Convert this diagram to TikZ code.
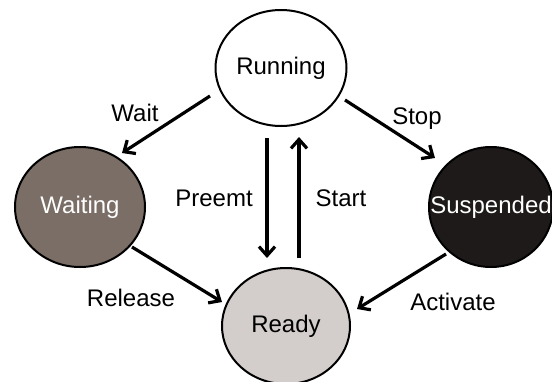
\documentclass[tikz,border=0pt]{standalone}
\usepackage{fontspec}
\setmainfont{Liberation Sans}
\usetikzlibrary{arrows.meta,shapes.geometric}
\definecolor{waitc}{HTML}{7A6E66}
\definecolor{suspc}{HTML}{1E1A1A}
\definecolor{readyc}{HTML}{D3CDCB}
\begin{document}
\begin{tikzpicture}[x=1pt,y=-1pt,
  state/.style={draw=black, line width=2pt, ellipse, inner sep=0pt, font=\fontsize{24}{28}\selectfont},
  lbl/.style={font=\fontsize{24}{28}\selectfont, inner sep=0pt},
  arr/.style={line width=3.2pt, -{Straight Barb[length=9pt,width=16pt,line width=3.2pt]}}]
\useasboundingbox (0,0) rectangle (552,381);
\path[fill=white] (0,0) rectangle (552,381);
\node[state, fill=white, minimum width=131pt, minimum height=116pt] (run) at (281,68) {\raisebox{-2pt}{Running}};
\node[state, fill=waitc, text=white, minimum width=130pt, minimum height=120pt] (wait) at (80,207) {\raisebox{-1pt}{Waiting}};
\node[state, fill=suspc, text=white, minimum width=124pt, minimum height=120pt, inner xsep=-20pt] (susp) at (491,207) {\raisebox{-1pt}{Suspended}};
\node[state, fill=readyc, minimum width=128pt, minimum height=116pt] (ready) at (286,326) {\raisebox{-1pt}{Ready}};
% connector end points
\coordinate (w1) at (210,96);  \coordinate (w2) at (122,153);
\coordinate (s1) at (345,100); \coordinate (s2) at (435,158);
\coordinate (p1) at (267,138); \coordinate (p2) at (267,258);
\coordinate (t1) at (299,258); \coordinate (t2) at (299,137);
\coordinate (r1) at (132,247); \coordinate (r2) at (222,302);
\coordinate (a1) at (446,254); \coordinate (a2) at (357,309);
\draw[arr] (w1) -- (w2);
\draw[arr] (s1) -- (s2);
\draw[arr] (p1) -- (p2);
\draw[arr] (t1) -- (t2);
\draw[arr] (r1) -- (r2);
\draw[arr] (a1) -- (a2);
\node[lbl] (lw) at (135,113) {Wait};
\node[lbl] (ls) at (417,119) {Stop};
\node[lbl] (lp) at (214,198) {Preemt};
\node[lbl] (lt) at (341,198) {Start};
\node[lbl] (lr) at (131,298) {Release};
\node[lbl] (la) at (453,302) {Activate};
\end{tikzpicture}
\end{document}
